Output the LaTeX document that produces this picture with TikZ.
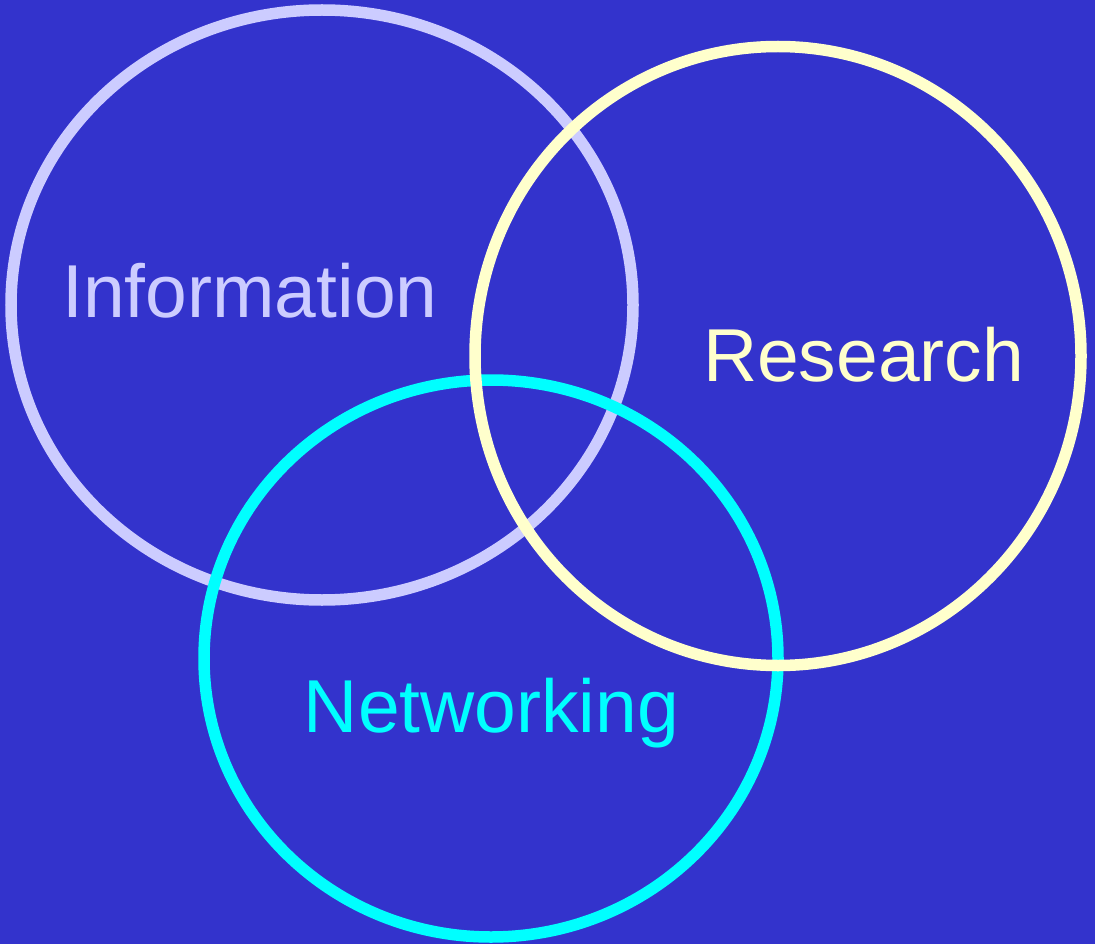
\documentclass[tikz,border=0pt]{standalone}
\usepackage{fontspec}
\setmainfont{Liberation Sans}
\usepackage{xcolor}
\usepackage{tikz}
\definecolor{slideblue}{HTML}{3333CC}
\definecolor{infocol}{HTML}{CCCCFF}
\definecolor{rescol}{HTML}{FFFFCC}
\definecolor{netcol}{HTML}{00FFFF}
\tikzset{
	ring/.style = {line width = 11.5pt},
	label/.style = {anchor = base, inner sep = 0pt, font = \fontsize{75}{90}\selectfont}
}

\begin{document}
\begin{tikzpicture}[x = 1pt, y = -1pt]
	\def\W{1095};
	\def\H{944};
	
	\fill [slideblue] (0,0) rectangle (\W,\H);
	\useasboundingbox (0,0) rectangle (\W,\H);
	
	\coordinate (info) at (322,305);
	\coordinate (net) at (491,658.5);
	\coordinate (res) at (778,356);
	
	\draw [ring, infocol] (info) ellipse [x radius = 311, y radius = 295];
	\draw [ring, netcol] (net) ellipse [x radius = 287, y radius = 278.5];
	\draw [ring, rescol] (res) ellipse [x radius = 303, y radius = 309.5];
	
	\node [label, text = infocol] (infotext) at (250,317) {Information};
	\node [label, text = rescol] (restext) at (863.5,381) {Research};
	\node [label, text = netcol] (nettext) at (491.5,732) {Networking};
\end{tikzpicture}
\end{document}
